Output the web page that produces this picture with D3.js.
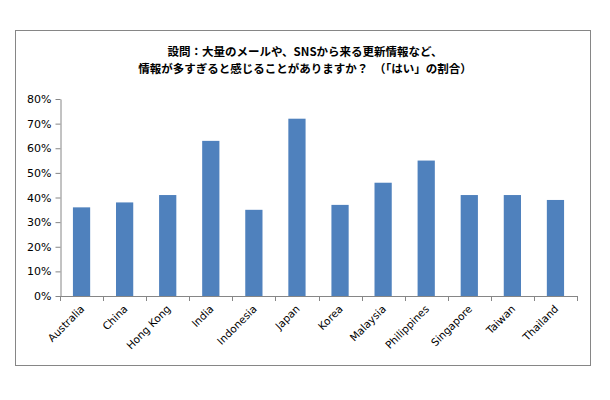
<!DOCTYPE html>
<html><head><meta charset="utf-8">
<script src="https://cdn.jsdelivr.net/npm/d3@7"></script>
<style>body{margin:0;background:#fff}svg{display:block}</style>
</head><body>
<script>
const categories = ["Australia","China","Hong Kong","India","Indonesia","Japan","Korea","Malaysia","Philippines","Singapore","Taiwan","Thailand"];
const values = [0.36,0.38,0.41,0.63,0.35,0.72,0.37,0.46,0.55,0.41,0.41,0.39];
const yTicks = [0,0.1,0.2,0.3,0.4,0.5,0.6,0.7,0.8];
const titleLines = ["設問：大量のメールや、SNSから来る更新情報など、","情報が多すぎると感じることがありますか？　（「はい」の割合）"];

const W=610,H=400;
const svg=d3.select("body").append("svg").attr("width",W).attr("height",H);
svg.append("rect").attr("x",15.5).attr("y",30.5).attr("width",575).attr("height",335)
  .attr("fill","#fff").attr("stroke","#868686").attr("stroke-width",1);

svg.selectAll("text.title").data(titleLines).enter().append("text")
  .attr("x",305).attr("y",(d,i)=>56+i*17).attr("text-anchor","middle")
  .attr("font-family","'Noto Sans CJK JP'").attr("font-weight","bold").attr("font-size",11.5)
  .attr("fill","#000").text(d=>d);

const x=d3.scaleBand().domain(categories).range([60,577]).paddingInner(0.6).paddingOuter(0.3);
const y=d3.scaleLinear().domain([0,0.8]).range([296,99]);

svg.selectAll("rect.bar").data(values).enter().append("rect")
  .attr("x",(d,i)=>x(categories[i])).attr("width",x.bandwidth())
  .attr("y",d=>y(d)).attr("height",d=>y(0)-y(d)).attr("fill","#4F81BD");

const yAxis=svg.append("g").attr("transform","translate(60.5,0)")
  .call(d3.axisLeft(y).tickValues(yTicks).tickFormat(d3.format(".0%")).tickSize(5).tickSizeOuter(0));
yAxis.selectAll("path,line").attr("stroke","#868686");
yAxis.selectAll("text").attr("font-family","'DejaVu Sans'").attr("font-size",11).attr("fill","#000").attr("x",-9);

const xb=d3.scaleLinear().domain([0,categories.length]).range([60,577]);
const xAxisG=svg.append("g");
xAxisG.append("line").attr("x1",60).attr("x2",577).attr("y1",296.5).attr("y2",296.5).attr("stroke","#868686");
xAxisG.selectAll("line.t").data(d3.range(categories.length+1)).enter().append("line")
  .attr("x1",d=>Math.round(xb(d))+0.5).attr("x2",d=>Math.round(xb(d))+0.5)
  .attr("y1",296).attr("y2",301).attr("stroke","#868686");
xAxisG.selectAll("text").data(categories).enter().append("text")
  .attr("transform",d=>`translate(${x(d)+x.bandwidth()/2+1},307) rotate(-45)`)
  .attr("text-anchor","end").attr("dy","0.35em")
  .attr("font-family","'DejaVu Sans'").attr("font-size",10.5).attr("fill","#000").text(d=>d);
</script>
</body></html>
